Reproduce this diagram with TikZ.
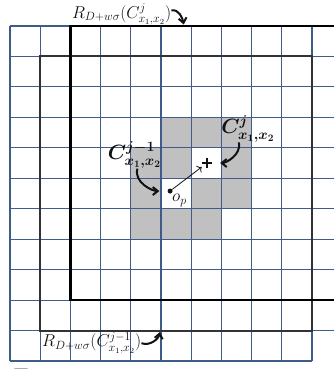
\documentclass[tikz,border=0pt]{standalone}
\usepackage{amsmath}
\usepackage{xcolor}
\usepackage{tikz}
\usetikzlibrary{arrows.meta,positioning}
\definecolor{rgGrid}{HTML}{3E5C8A}
\definecolor{rgShade}{HTML}{C0C0C0}
\definecolor{rgInk}{HTML}{111111}
\tikzset{
  gridline/.style={draw=rgGrid,line width=1.1bp},
  cellfill/.style={fill=rgShade},
  regA/.style={draw=black,line width=2.6bp},
  regB/.style={draw=black!80,line width=2bp},
  reglbl/.style={font=\fontsize{16.5}{18}\selectfont,inner sep=0pt,text=rgInk},
  ptlbl/.style={font=\fontsize{20}{22}\selectfont\boldmath,inner sep=0pt,text=rgInk},
  oplbl/.style={font=\fontsize{17}{19}\selectfont,inner sep=0pt,text=rgInk},
  dotpt/.style={circle,fill=rgInk,inner sep=0pt,minimum size=5bp},
  pluspt/.style={rectangle,inner sep=0pt,minimum size=10bp,
    path picture={\draw[rgInk,line width=2.2bp]
      (path picture bounding box.north) -- (path picture bounding box.south)
      (path picture bounding box.west) -- (path picture bounding box.east);}},
  hookarr/.style={-{Straight Barb[length=5bp,width=8bp]},line width=2bp,color=rgInk},
  thinarr/.style={-{To[length=4bp]},line width=0.8bp,color=rgInk},
}
\begin{document}
\begin{tikzpicture}[x=30.2bp,y=-30.45bp]
  \useasboundingbox (-0.331,-0.854) rectangle (10.728,11.264);
  \clip (-0.331,-0.854) rectangle (10.728,11.264);

  \foreach \c/\r in {5/3,6/3,7/3,4/4,5/4,7/4,4/5,6/5,7/5,4/6,5/6,6/6}
    \fill[cellfill] (\c,\r) rectangle ++(1,1);

  \foreach \c in {0,...,10}
    \draw[gridline] (\c,0) -- (\c,11);
  \foreach \r in {0,...,10}
    \draw[gridline] (0,\r) -- (11,\r);
  \draw[gridline] (0,11) -- (10,11);

  \draw[regB] (1,1) rectangle (10,10);
  \draw[regA] (2,0) rectangle (11,9);

  \node[dotpt] (op) at (5.3,5.42) {};
  \node[pluspt] (tgt) at (6.52,4.5) {};
  \node[oplbl,below right=1bp and 0bp of op] (opname) {$o_p$};

  \node[ptlbl] (cprev) at (4.12,4.24) {$C^{j-1}_{x_1,x_2}$};
  \node[ptlbl] (ccur) at (7.88,3.38) {$C^{j}_{x_1,x_2}$};

  \node[reglbl,anchor=base west] (lblA) at (2.05,-0.26)
    {$R_{D+w\sigma}(C^{j}_{x_1,x_2})$};
  \node[reglbl,anchor=base west] (lblB) at (1.06,10.54)
    {$R_{D+w\sigma}(C^{j-1}_{x_1,x_2})$};

  \coordinate (edgeA) at (5.76,0);
  \coordinate (edgeB) at (4.97,10);

  \draw[thinarr] (op) -- (tgt);
  \draw[hookarr,shorten >=8bp] ([xshift=3bp]cprev.south) to[out=-105,in=180] (op);
  \draw[hookarr,shorten >=8bp] ([xshift=-9bp]ccur.south) to[out=-80,in=0] (tgt);
  \draw[hookarr,shorten >=1.5bp] ([yshift=4bp]lblA.east) to[out=10,in=100] (edgeA);
  \draw[hookarr,shorten >=1.5bp] (lblB.east) to[out=-20,in=-100] (edgeB);

  \node[anchor=north west,inner sep=0pt,font=\fontsize{27}{30}\selectfont] (fig)
    at (0.1,11.27) {Fig. 2};
\end{tikzpicture}
\end{document}
